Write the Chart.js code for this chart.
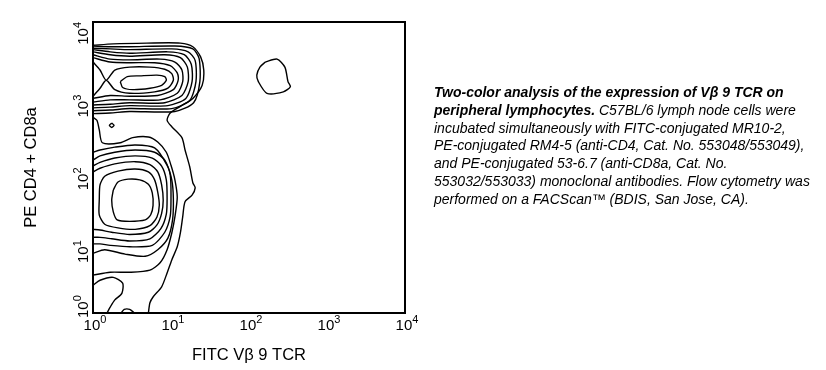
<!DOCTYPE html>
<html>
<head>
<meta charset="utf-8">
<script src="https://cdn.jsdelivr.net/npm/chart.js@4.4.0/dist/chart.umd.min.js"></script>
<style>
  html, body { margin: 0; padding: 0; background: #fff; }
  #wrap { position: relative; width: 826px; height: 370px; }
  #caption {
    position: absolute; left: 434px; top: 84px;
    font: italic 14px "Liberation Sans", Arial, sans-serif;
    line-height: 17.8px; white-space: nowrap; color: #000;
  }
</style>
</head>
<body>
<div id="wrap">
  <canvas id="chart" width="826" height="370"></canvas>
  <div id="caption"><b>Two-color analysis of the expression of Vβ 9 TCR on<br>peripheral lymphocytes.</b> C57BL/6 lymph node cells were<br>incubated simultaneously with FITC-conjugated MR10-2,<br>PE-conjugated RM4-5 (anti-CD4, Cat. No. 553048/553049),<br>and PE-conjugated 53-6.7 (anti-CD8a, Cat. No.<br>553032/553033) monoclonal antibodies. Flow cytometry was<br>performed on a FACScan™ (BDIS, San Jose, CA).</div>
</div>
<script>
/* Contour lines, in decades (log10 of fluorescence).
 * Each point is [FITC decade, PE decade]. */
const tickExponents = [0, 1, 2, 3, 4];
const xTitle = 'FITC Vβ 9 TCR';
const yTitle = 'PE CD4 + CD8a';

// outermost line around both populations
const outerLine = [[0,3.68],[0.26,3.70],[0.69,3.71],[1.12,3.71],[1.28,3.66],[1.38,3.52],[1.42,3.34],[1.40,3.13],[1.28,2.95],[1.12,2.84],[0.99,2.75],[0.95,2.65],[1.01,2.56],[1.14,2.41],[1.18,2.24],[1.24,2.01],[1.28,1.79],[1.31,1.72],[1.27,1.62],[1.18,1.53],[1.15,1.32],[1.12,1.10],[1.08,0.91],[1.01,0.73],[0.95,0.55],[0.88,0.36],[0.77,0.22],[0.73,0.14],[0.71,0]];
const secondLine = [[0,2.69],[0.05,2.65],[0.08,2.52],[0.12,2.34],[0.35,2.34],[0.51,2.41],[0.71,2.42],[0.83,2.35],[0.94,2.21],[1.00,2.03],[1.05,1.83],[1.08,1.59],[1.05,1.32],[1.01,1.10],[0.95,0.87],[0.86,0.69],[0.73,0.59],[0.47,0.56],[0.22,0.56],[0,0.52]];
const smallDot = [[0.24,2.61],[0.27,2.58],[0.24,2.55],[0.21,2.58],[0.24,2.61]];

// upper (CD4/CD8 bright) population
const upper1 = [[0,3.45],[0.09,3.34],[0.17,3.20],[0.28,3.34],[0.47,3.38],[0.73,3.38],[0.92,3.35],[1.01,3.29],[1.03,3.20],[0.96,3.09],[0.79,3.04],[0.47,3.02],[0.28,3.07],[0.17,3.20],[0.09,3.09],[0,2.98]];
const upper2 = [[0,3.51],[0.22,3.45],[0.47,3.44],[0.79,3.44],[0.99,3.40],[1.08,3.30],[1.09,3.19],[1.03,3.07],[0.83,2.99],[0.47,2.98],[0.22,2.99],[0,2.95]];
const upper3 = [[0,3.55],[0.22,3.49],[0.47,3.48],[0.86,3.49],[1.05,3.45],[1.14,3.34],[1.15,3.18],[1.08,3.02],[0.86,2.93],[0.47,2.93],[0.22,2.93],[0,2.90]];
const upper4 = [[0,3.59],[0.22,3.55],[0.47,3.53],[0.92,3.55],[1.12,3.51],[1.21,3.38],[1.22,3.18],[1.14,2.99],[0.92,2.89],[0.47,2.89],[0.22,2.87],[0,2.86]];
const upper5 = [[0,3.62],[0.22,3.59],[0.47,3.57],[0.96,3.59],[1.17,3.55],[1.26,3.42],[1.27,3.18],[1.19,2.95],[0.96,2.85],[0.47,2.85],[0.22,2.83],[0,2.82]];
const upper6 = [[0,3.64],[0.22,3.63],[0.47,3.62],[1.01,3.63],[1.22,3.59],[1.31,3.47],[1.32,3.18],[1.24,2.92],[1.01,2.81],[0.47,2.81],[0.22,2.79],[0,2.78]];
const upper7 = [[0,3.67],[0.22,3.66],[0.47,3.66],[1.05,3.67],[1.28,3.63],[1.36,3.50],[1.37,3.18],[1.29,2.89],[1.05,2.77],[0.47,2.77],[0.22,2.75],[0,2.74]];
const upperCore = [[0.35,3.18],[0.44,3.25],[0.60,3.26],[0.82,3.27],[0.92,3.25],[0.94,3.20],[0.88,3.13],[0.73,3.09],[0.51,3.07],[0.38,3.10],[0.35,3.18]];

// lower (double negative) population
const lowerCore = [[0.26,1.69],[0.32,1.80],[0.45,1.84],[0.60,1.83],[0.71,1.77],[0.76,1.65],[0.77,1.48],[0.74,1.35],[0.67,1.28],[0.47,1.26],[0.31,1.28],[0.26,1.39],[0.24,1.55],[0.26,1.69]];
const lower1 = [[0.08,1.55],[0.09,1.76],[0.15,1.88],[0.32,1.95],[0.54,1.98],[0.71,1.94],[0.79,1.83],[0.83,1.66],[0.85,1.48],[0.82,1.32],[0.73,1.20],[0.54,1.15],[0.32,1.17],[0.15,1.22],[0.08,1.35],[0.08,1.55]];
const lower2 = [[0,1.94],[0.09,1.99],[0.28,2.05],[0.54,2.08],[0.73,2.04],[0.83,1.94],[0.88,1.76],[0.90,1.55],[0.88,1.37],[0.82,1.21],[0.71,1.11],[0.47,1.08],[0.24,1.11],[0.09,1.14],[0,1.15]];
const lower3 = [[0,2.02],[0.09,2.07],[0.28,2.13],[0.54,2.16],[0.76,2.13],[0.88,2.02],[0.94,1.83],[0.95,1.58],[0.94,1.36],[0.87,1.16],[0.73,1.02],[0.47,0.99],[0.24,1.02],[0.09,1.04],[0,1.04]];
const lower4 = [[0,2.10],[0.09,2.16],[0.28,2.21],[0.54,2.24],[0.79,2.21],[0.92,2.10],[0.99,1.90],[1.00,1.58],[0.99,1.33],[0.92,1.11],[0.76,0.93],[0.47,0.91],[0.22,0.93],[0.09,0.95],[0,0.95]];
const lower5 = [[0,2.21],[0.09,2.24],[0.28,2.28],[0.54,2.31],[0.79,2.27],[0.95,2.03],[1.01,1.83],[1.03,1.58],[1.02,1.28],[0.96,1.03],[0.83,0.87],[0.67,0.78],[0.41,0.81],[0.15,0.87],[0,0.82]];
const cornerLoop = [[0,0.38],[0.09,0.45],[0.26,0.49],[0.38,0.41],[0.37,0.27],[0.28,0.18],[0.22,0.08],[0.18,0]];
const cornerBump = [[0.36,0],[0.40,0.05],[0.47,0.05],[0.53,0]];

// small V-beta 9 positive island
const vb9Island = [[2.21,3.45],[2.36,3.49],[2.46,3.38],[2.50,3.18],[2.53,3.11],[2.44,3.04],[2.23,3.02],[2.12,3.18],[2.10,3.27],[2.14,3.38],[2.21,3.45]];

const contours = [outerLine, secondLine, smallDot, upper1, upper2, upper3, upper4, upper5, upper6, upper7, upperCore,
    lowerCore, lower1, lower2, lower3, lower4, lower5, cornerLoop, cornerBump, vb9Island];

const FONT = '"Liberation Sans", Arial, sans-serif';

// frame + "10^n" tick labels with real superscripts
const framePlugin = {
    id: 'frame',
    afterDraw(chart) {
        const { ctx, chartArea: a, scales } = chart;
        ctx.save();
        ctx.strokeStyle = '#000';
        ctx.lineWidth = 2;
        ctx.strokeRect(a.left, a.top, a.right - a.left, a.bottom - a.top);
        ctx.fillStyle = '#000';
        ctx.textBaseline = 'alphabetic';
        ctx.textAlign = 'left';

        const drawPow = (exp, x0, base) => {
            ctx.font = '15px ' + FONT;
            ctx.fillText('10', x0, base);
            const w = ctx.measureText('10').width;
            ctx.font = '11px ' + FONT;
            ctx.fillText(String(exp), x0 + w, base - 7);
        };
        const powWidth = exp => {
            ctx.font = '15px ' + FONT;
            const w = ctx.measureText('10').width;
            ctx.font = '11px ' + FONT;
            return w + ctx.measureText(String(exp)).width;
        };

        tickExponents.forEach(e => {
            const px = scales.x.getPixelForValue(e);
            drawPow(e, px - powWidth(e) / 2 + 2, a.bottom + 17);
        });
        tickExponents.forEach(e => {
            const py = scales.y.getPixelForValue(e);
            const w = powWidth(e);
            ctx.save();
            ctx.translate(a.left - 5, py);
            ctx.rotate(-Math.PI / 2);
            drawPow(e, e === 0 ? -5 : -w, 0);
            ctx.restore();
        });
        ctx.restore();
    }
};

const ctx = document.getElementById('chart').getContext('2d');
new Chart(ctx, {
    type: 'scatter',
    data: {
        datasets: contours.map(c => ({
            data: c.map(p => ({ x: p[0], y: p[1] })),
            showLine: true,
            borderColor: '#000',
            borderWidth: 1.4,
            pointRadius: 0,
            tension: 0.25,
            fill: false
        }))
    },
    options: {
        responsive: false,
        animation: false,
        layout: { padding: { left: 0, top: 22, right: 421, bottom: 0 } },
        plugins: { legend: { display: false }, tooltip: { enabled: false } },
        scales: {
            x: {
                type: 'linear', min: 0, max: 4,
                ticks: { display: false },
                grid: { display: false },
                border: { display: false },
                title: { display: true, text: xTitle, color: '#000', font: { family: FONT, size: 16.5 }, padding: { top: 0, bottom: 5 } },
                afterFit: s => { s.height = 57; }
            },
            y: {
                type: 'linear', min: 0, max: 4,
                ticks: { display: false },
                grid: { display: false },
                border: { display: false },
                title: { display: true, text: yTitle, color: '#000', font: { family: FONT, size: 16.5 }, padding: { top: 22, bottom: 0 } },
                afterFit: s => { s.width = 93; }
            }
        }
    },
    plugins: [framePlugin]
});
</script>
</body>
</html>
